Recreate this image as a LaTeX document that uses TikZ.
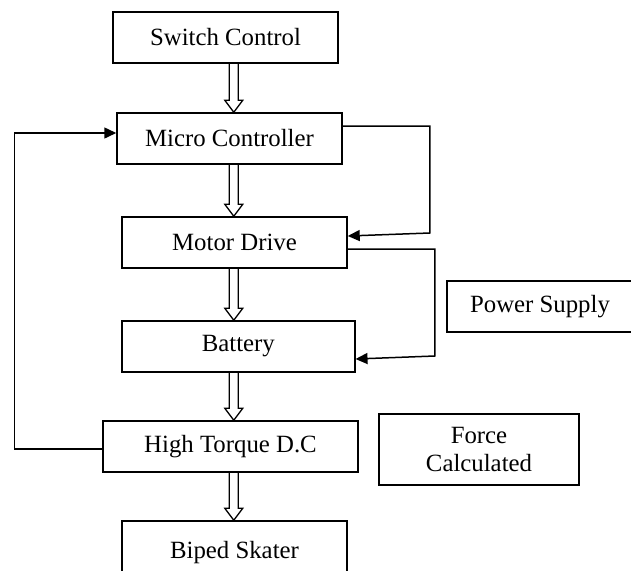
\documentclass[tikz,border=0pt]{standalone}
\usepackage{fontspec}
\setmainfont{Liberation Serif}
\usetikzlibrary{arrows.meta,calc}
\begin{document}
\begin{tikzpicture}[x=1pt,y=-1pt,
  box/.style={draw,line width=1.5pt,rectangle,inner sep=0pt,align=center,
    font=\fontsize{24.8}{28}\selectfont},
  fb/.style={draw,line width=1.5pt,-{Triangle[length=12pt,width=11pt]}},
  hollow/.style={draw,line width=1.3pt,line join=miter}]
\useasboundingbox (0,0) rectangle (631,570);
\fill[white] (0,0) rectangle (631,570);
\node[box,minimum width=225pt,minimum height=51pt] (sw) at (225.5,37.5) {Switch Control};
\node[box,minimum width=225pt,minimum height=51pt] (mc) at (229.5,138.5) {Micro Controller};
\node[box,minimum width=225pt,minimum height=51pt] (md) at (234.5,242.5) {Motor Drive};
\node[box,minimum width=233pt,minimum height=51pt] (bt) at (238.3,346.5) {Battery};
\node[box,minimum width=255pt,minimum height=51pt] (ht) at (230.5,446.5) {High Torque D.C};
\node[box,minimum width=225pt,minimum height=64pt] (bs) at (234.5,553) {Biped Skater};
\node[box,minimum width=186pt,minimum height=51pt] (ps) at (540,306.5) {Power Supply};
\node[box,minimum width=200pt,minimum height=71pt] (fc) at (479,449.5) {Force\\Calculated};
\coordinate (ax) at (233.8,0);
\newcommand\hollowarrow[2]{%
  \draw[hollow] let \p1=(#1.south -| ax), \p2=(#2.north -| ax) in
    (\x1-4.5pt,\y1) -- (\x1-4.5pt,\y2+12pt) -- (\x1-9pt,\y2+12pt) -- (\x2,\y2)
    -- (\x1+9pt,\y2+12pt) -- (\x1+4.5pt,\y2+12pt) -- (\x1+4.5pt,\y1);}
\hollowarrow{sw}{mc}
\hollowarrow{mc}{md}
\hollowarrow{md}{bt}
\hollowarrow{bt}{ht}
\hollowarrow{ht}{bs}
\draw[fb] ([yshift=12.5pt]mc.east) -- ++(87,0) -- ++(0,107) -- ([yshift=6.5pt]md.east);
\draw[fb] ([yshift=-6.5pt]md.east) -- ++(87,0) -- ++(0,107) -- ([yshift=-12.5pt]bt.east);
\draw[fb] ([yshift=-2.5pt]ht.west) -- ++(-88,0) |- ([yshift=5.5pt]mc.west);
\end{tikzpicture}
\end{document}
